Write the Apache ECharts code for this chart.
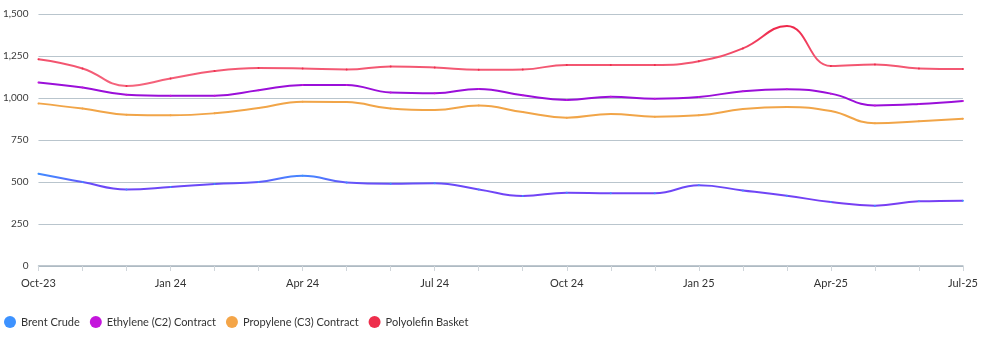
<!DOCTYPE html>
<html>
<head>
<meta charset="utf-8">
<script src="https://cdn.jsdelivr.net/npm/echarts@6/dist/echarts.min.js"></script>
<style>html,body{margin:0;padding:0;background:#fff;}#c{width:981px;height:349px;}</style>
</head>
<body>
<div id="c"></div>
<script>
const categories = ["Oct-23","Nov 23","Dec 23","Jan 24","Feb 24","Mar 24","Apr 24","May 24","Jun 24","Jul 24","Aug 24","Sep 24","Oct 24","Nov 24","Dec 24","Jan 25","Feb 25","Mar 25","Apr-25","May 25","Jun 25","Jul-25"];
const brentCrude = [549,500,456,470,488,500,537,497,490,493,456,417,436,433,433,480,450,418,381,359,385,389];
const ethyleneC2 = [1092,1062,1020,1014,1014,1046,1078,1078,1032,1028,1054,1016,988,1008,996,1006,1040,1052,1026,956,964,982];
const propyleneC3 = [968,937,901,897,909,940,978,976,937,928,956,916,883,905,889,897,934,946,922,850,862,876];
const polyolefinBasket = [1231,1176,1072,1116,1161,1179,1176,1170,1188,1182,1168,1170,1197,1197,1197,1219,1295,1429,1190,1200,1176,1172];
const yTicks = [0,250,500,750,1000,1250,1500];

const chart = echarts.init(document.getElementById('c'), null, {renderer:'canvas'});
const FONT = 'Lato, "Noto Sans", sans-serif';
function grad(stops){return new echarts.graphic.LinearGradient(0,0,0,1,stops);}
function mk(name, data, legendColor, lineColor){
  return {name, type:'line', data, smooth:0.45, symbol:'circle', symbolSize:2, showSymbol:true,
    itemStyle:{color:legendColor}, lineStyle:{width:2, color:lineColor}, emphasis:{disabled:true}};
}
chart.setOption({
  animation:false,
  textStyle:{fontFamily:FONT},
  grid:{left:37, right:18, top:14, bottom:83, containLabel:false},
  legend:{left:-1, bottom:16, itemWidth:12, itemHeight:12, icon:'circle', itemGap:10,
    textStyle:{fontFamily:FONT, fontSize:11, color:'#333'},
    data:['Brent Crude','Ethylene (C2) Contract','Propylene (C3) Contract','Polyolefin Basket']},
  xAxis:{type:'category', data:categories, boundaryGap:false,
    axisLine:{lineStyle:{color:'#aab7c0', width:1.5}},
    axisTick:{show:true, interval:0, length:5, lineStyle:{color:'#d0d6db'}},
    axisLabel:{interval:2, color:'#333', fontSize:11, margin:12, fontFamily:FONT},
    splitLine:{show:false}},
  yAxis:{type:'value', min:0, max:1500, interval:250,
    axisLine:{show:false}, axisTick:{show:false},
    axisLabel:{color:'#3a3a3a', fontSize:10, margin:10, fontFamily:FONT,
      formatter:v=>yTicks.includes(v)?v.toLocaleString('en-US'):''},
    splitLine:{lineStyle:{color:'#b9c5cd', width:1.2}}},
  series:[
    mk('Brent Crude', brentCrude, '#3d92ff', grad([{offset:0,color:'#3a8fff'},{offset:0.15,color:'#4a80ff'},{offset:0.35,color:'#6a4af8'},{offset:1,color:'#7a3cf2'}])),
    mk('Ethylene (C2) Contract', ethyleneC2, '#c416dc', '#9a0fd9'),
    mk('Propylene (C3) Contract', propyleneC3, '#f4a548', '#f1a548'),
    mk('Polyolefin Basket', polyolefinBasket, '#ee2e4c', grad([{offset:0,color:'#ee2448'},{offset:0.5,color:'#f2506c'},{offset:1,color:'#f5667e'}]))
  ]
});
</script>
</body>
</html>
